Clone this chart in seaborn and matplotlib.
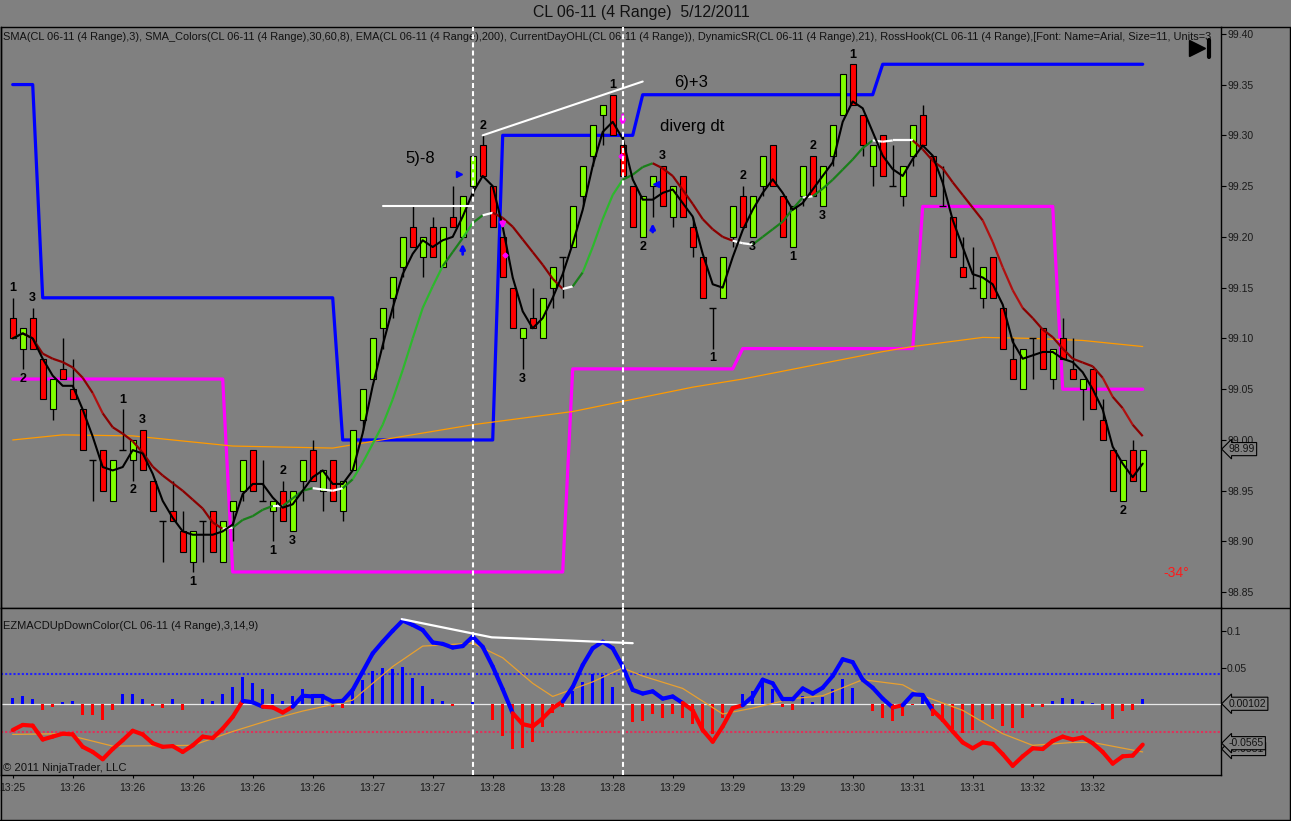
import numpy as np
import pandas as pd
import matplotlib
matplotlib.use("Agg")
import matplotlib.pyplot as plt
import matplotlib.transforms as mtransforms
from matplotlib.collections import LineCollection
from matplotlib.lines import Line2D
import seaborn as sns

# --- velas CL 06-11 (barras de rango 4) ---
bar_open = [99.12, 99.09, 99.12, 99.08, 99.03, 99.07, 99.05, 99.03, 98.98, 98.99,
            98.94, 98.99, 98.98, 99.01, 98.96, 98.92, 98.93, 98.91, 98.88, 98.92,
            98.93, 98.88, 98.93, 98.95, 98.99, 98.94, 98.93, 98.95, 98.91, 98.96,
            98.99, 98.95, 98.98, 98.93, 98.97, 99.02, 99.06, 99.11, 99.14, 99.17,
            99.21, 99.18, 99.21, 99.17, 99.22, 99.20, 99.25, 99.29, 99.25, 99.20,
            99.15, 99.10, 99.12, 99.10, 99.15, 99.18, 99.19, 99.24, 99.28, 99.32,
            99.34, 99.29, 99.25, 99.20, 99.25, 99.27, 99.22, 99.26, 99.21, 99.18,
            99.13, 99.14, 99.20, 99.24, 99.20, 99.25, 99.29, 99.24, 99.19, 99.24,
            99.28, 99.23, 99.28, 99.32, 99.37, 99.32, 99.27, 99.30, 99.25, 99.24,
            99.28, 99.32, 99.28, 99.23, 99.22, 99.17, 99.15, 99.14, 99.18, 99.13,
            99.08, 99.05, 99.10, 99.11, 99.06, 99.10, 99.07, 99.05, 99.07, 99.02,
            98.99, 98.94, 98.99, 98.95]
bar_high = [99.14, 99.11, 99.13, 99.08, 99.06, 99.10, 99.08, 99.03, 98.98, 98.99,
            98.98, 99.03, 99.00, 99.01, 98.96, 98.92, 98.96, 98.93, 98.91, 98.92,
            98.93, 98.92, 98.94, 98.98, 98.99, 98.98, 98.94, 98.96, 98.95, 98.98,
            99.00, 98.97, 98.98, 98.96, 99.01, 99.05, 99.10, 99.13, 99.16, 99.20,
            99.23, 99.20, 99.22, 99.21, 99.25, 99.24, 99.28, 99.30, 99.25, 99.20,
            99.15, 99.11, 99.15, 99.14, 99.17, 99.18, 99.23, 99.27, 99.31, 99.33,
            99.34, 99.30, 99.25, 99.24, 99.26, 99.27, 99.25, 99.26, 99.22, 99.18,
            99.13, 99.18, 99.23, 99.25, 99.24, 99.28, 99.29, 99.24, 99.23, 99.27,
            99.28, 99.27, 99.31, 99.36, 99.37, 99.32, 99.29, 99.30, 99.29, 99.27,
            99.31, 99.33, 99.28, 99.27, 99.22, 99.20, 99.19, 99.17, 99.18, 99.13,
            99.10, 99.09, 99.10, 99.11, 99.09, 99.12, 99.10, 99.06, 99.07, 99.04,
            98.99, 98.98, 99.00, 98.99]
bar_low = [99.10, 99.07, 99.09, 99.04, 99.02, 99.06, 99.04, 98.99, 98.94, 98.95,
           98.94, 98.99, 98.96, 98.97, 98.93, 98.88, 98.92, 98.89, 98.87, 98.88,
           98.89, 98.88, 98.90, 98.94, 98.95, 98.94, 98.90, 98.92, 98.91, 98.94,
           98.96, 98.93, 98.94, 98.92, 98.97, 99.01, 99.06, 99.09, 99.12, 99.16,
           99.19, 99.16, 99.18, 99.17, 99.21, 99.20, 99.24, 99.26, 99.21, 99.16,
           99.11, 99.07, 99.11, 99.10, 99.13, 99.14, 99.19, 99.23, 99.27, 99.29,
           99.30, 99.26, 99.21, 99.20, 99.22, 99.23, 99.21, 99.22, 99.18, 99.14,
           99.09, 99.14, 99.19, 99.21, 99.20, 99.24, 99.25, 99.20, 99.19, 99.23,
           99.24, 99.23, 99.27, 99.32, 99.33, 99.28, 99.25, 99.26, 99.25, 99.23,
           99.27, 99.29, 99.24, 99.23, 99.18, 99.16, 99.15, 99.13, 99.14, 99.09,
           99.06, 99.05, 99.06, 99.07, 99.05, 99.08, 99.06, 99.02, 99.03, 99.00,
           98.95, 98.94, 98.96, 98.95]
bar_close = [99.10, 99.11, 99.09, 99.04, 99.06, 99.06, 99.04, 98.99, 98.98, 98.95,
             98.98, 98.99, 99.00, 98.97, 98.93, 98.92, 98.92, 98.89, 98.91, 98.92,
             98.89, 98.92, 98.94, 98.98, 98.95, 98.94, 98.94, 98.92, 98.95, 98.98,
             98.96, 98.97, 98.94, 98.96, 99.01, 99.05, 99.10, 99.13, 99.16, 99.20,
             99.19, 99.20, 99.18, 99.21, 99.21, 99.24, 99.28, 99.26, 99.21, 99.16,
             99.11, 99.11, 99.11, 99.14, 99.17, 99.18, 99.23, 99.27, 99.31, 99.33,
             99.30, 99.26, 99.21, 99.24, 99.26, 99.23, 99.25, 99.22, 99.19, 99.14,
             99.13, 99.18, 99.23, 99.21, 99.24, 99.28, 99.25, 99.20, 99.23, 99.27,
             99.24, 99.27, 99.31, 99.36, 99.33, 99.29, 99.29, 99.26, 99.25, 99.27,
             99.31, 99.29, 99.24, 99.23, 99.18, 99.16, 99.15, 99.17, 99.14, 99.09,
             99.06, 99.09, 99.10, 99.07, 99.09, 99.08, 99.06, 99.06, 99.03, 99.00,
             98.95, 98.98, 98.96, 98.99]

# EMA(200) naranja, puntos
ema_bars = [0, 5, 12, 22, 32, 46, 56, 68, 73, 87, 90, 97, 102, 107, 113]
ema_vals = [99.000, 99.005, 99.004, 98.994, 98.992, 99.015, 99.028, 99.052,
            99.060, 99.087, 99.092, 99.101, 99.100, 99.098, 99.092]

# DynamicSR: niveles y numero de barras de cada tramo
res_levels = [99.35, 99.14, 99.00, 99.30, 99.34, 99.37]
res_counts = [3, 30, 16, 14, 24, 27]
sup_levels = [99.06, 98.87, 99.07, 99.09, 99.23, 99.05]
sup_counts = [22, 34, 17, 18, 14, 9]

# RossHook: barra, texto, arriba (a) / abajo (b)
hook_bars = [0, 2, 1, 11, 13, 12, 18, 27, 26, 28, 47, 51, 60, 65, 63, 73, 74, 78, 80, 81, 70, 84, 111]
hook_text = ["1", "3", "2", "1", "3", "2", "1", "2", "1", "3", "2", "3", "1", "3", "2", "2", "3", "1", "2", "3", "1", "1", "2"]
hook_side = ["a", "a", "b", "a", "a", "b", "b", "a", "b", "b", "a", "b", "a", "a", "b", "a", "b", "b", "a", "b", "b", "a", "b"]

# EZMACD: linea, histograma y senal
macd_line = [-0.035, -0.028, -0.029, -0.048, -0.044, -0.040, -0.041, -0.058, -0.065, -0.075,
             -0.061, -0.049, -0.036, -0.041, -0.053, -0.058, -0.057, -0.065, -0.056, -0.044,
             -0.046, -0.033, -0.017, 0.005, 0.003, -0.003, -0.004, -0.011, -0.003, 0.012,
             0.011, 0.011, 0.004, 0.005, 0.020, 0.045, 0.070, 0.086, 0.101, 0.115,
             0.109, 0.102, 0.085, 0.083, 0.078, 0.080, 0.093, 0.079, 0.052, 0.021,
             -0.012, -0.027, -0.030, -0.019, -0.005, 0.004, 0.024, 0.054, 0.077, 0.086,
             0.077, 0.052, 0.020, 0.015, 0.018, 0.008, 0.011, 0.002, -0.008, -0.035,
             -0.051, -0.030, -0.005, -0.001, 0.011, 0.034, 0.029, 0.007, 0.007, 0.022,
             0.015, 0.023, 0.039, 0.062, 0.058, 0.034, 0.023, 0.008, -0.004, -0.001,
             0.014, 0.013, -0.008, -0.021, -0.037, -0.052, -0.060, -0.052, -0.054, -0.068,
             -0.084, -0.071, -0.060, -0.061, -0.050, -0.044, -0.048, -0.045, -0.053, -0.065,
             -0.081, -0.071, -0.070, -0.055]
macd_hist = [0.009, 0.011, 0.008, -0.008, -0.004, 0.004, 0.005, -0.014, -0.015, -0.021,
             -0.008, 0.015, 0.015, 0.008, -0.002, -0.005, 0.008, -0.008, 0.0, 0.008,
             0.005, 0.015, 0.024, 0.038, 0.030, 0.021, 0.015, 0.005, 0.011, 0.021,
             0.015, 0.011, -0.004, -0.005, 0.019, 0.033, 0.046, 0.050, 0.049, 0.051,
             0.036, 0.025, 0.008, 0.005, -0.002, 0.0, 0.004, 0.0, -0.021, -0.043,
             -0.061, -0.060, -0.052, -0.031, -0.011, -0.004, 0.018, 0.031, 0.042, 0.041,
             0.024, 0.0, -0.024, -0.022, -0.013, -0.019, -0.013, -0.019, -0.027, -0.033,
             -0.040, -0.019, 0.0, 0.015, 0.018, 0.031, 0.021, -0.004, -0.007, 0.011,
             0.004, 0.010, 0.021, 0.035, 0.023, 0.001, -0.009, -0.018, -0.022, -0.016,
             -0.001, 0.010, -0.016, -0.024, -0.033, -0.039, -0.035, -0.021, -0.020, -0.029,
             -0.032, -0.018, -0.004, -0.004, 0.005, 0.009, 0.008, 0.005, 0.002, -0.008,
             -0.020, -0.009, -0.007, 0.008]
signal_bars = [0, 5, 10, 18, 22, 26, 29, 34, 38, 41, 46, 49, 52, 54, 58, 61, 63, 67, 71,
               74, 78, 81, 85, 89, 91, 95, 99, 102, 106, 108, 113]
signal_vals = [-0.041, -0.040, -0.057, -0.056, -0.037, -0.020, -0.009, 0.006, 0.052, 0.080,
               0.084, 0.064, 0.029, 0.011, 0.031, 0.050, 0.039, 0.022, -0.013, -0.005,
               0.008, 0.012, 0.034, 0.027, 0.012, -0.008, -0.040, -0.056, -0.052, -0.052,
               -0.065]

time_labels = ["13:25", "13:26", "13:26", "13:26", "13:26", "13:26", "13:27", "13:27",
               "13:28", "13:28", "13:28", "13:29", "13:29", "13:29", "13:30", "13:31",
               "13:31", "13:32", "13:32"]
time_label_bars = list(range(0, 109, 6))

price_ticks = [98.85, 98.90, 98.95, 99.00, 99.05, 99.10, 99.15, 99.20, 99.25, 99.30, 99.35, 99.40]

header = ("SMA(CL 06-11 (4 Range),3), SMA_Colors(CL 06-11 (4 Range),30,60,8), "
          "EMA(CL 06-11 (4 Range),200), CurrentDayOHL(CL 06-11 (4 Range)), "
          "DynamicSR(CL 06-11 (4 Range),21), RossHook(CL 06-11 (4 Range),"
          "[Font: Name=Arial, Size=11, Units=3")

# --- estilo ---
GRIS = "#808080"
sns.set_style("dark", {"axes.facecolor": GRIS, "figure.facecolor": GRIS,
                       "axes.edgecolor": "black", "text.color": "black"})
plt.rcParams["font.family"] = ["Liberation Sans", "DejaVu Sans"]
plt.rcParams["text.color"] = "black"

W, H = 1291, 821
fig = plt.figure(figsize=(W / 100, H / 100), dpi=100)
fig.patch.set_facecolor(GRIS)
ax = fig.add_axes([1 / W, 1 - 607.7 / H, 1219.7 / W, 580.4 / H])
ax2 = fig.add_axes([1 / W, 1 - 775 / H, 1219.7 / W, 167.3 / H])
renderer = fig.canvas.get_renderer()

idx = np.arange(len(bar_close))
o = np.array(bar_open)
h = np.array(bar_high)
l = np.array(bar_low)
c = np.array(bar_close)

for a in (ax, ax2):
    a.set_facecolor(GRIS)
    a.set_xlim(-1.17, 120.8)
    for s in a.spines.values():
        s.set_color("black")
        s.set_linewidth(1)
    a.grid(False)

ax.set_ylim(98.8348, 99.4064)
ax2.set_ylim(-0.0966, 0.1326)

# --- panel de precio ---
res = np.repeat(res_levels, res_counts)
sup = np.repeat(sup_levels, sup_counts)
sns.lineplot(x=idx, y=res, ax=ax, color="#0000ff", lw=2.3, zorder=2)
sns.lineplot(x=idx, y=sup, ax=ax, color="#ff00ff", lw=2.3, zorder=2)
sns.lineplot(x=ema_bars, y=ema_vals, ax=ax, color="#ff9a00", lw=0.9, zorder=2)

up = c > o + 1e-9
dn = c < o - 1e-9
dj = ~(up | dn)
ax.vlines(idx, l, h, color="black", lw=1, zorder=3)
ax.bar(idx[up], (c - o)[up], bottom=o[up], width=0.62, color="#80ff00",
       edgecolor="black", linewidth=0.8, zorder=4)
ax.bar(idx[dn], (o - c)[dn], bottom=c[dn], width=0.62, color="#ff0000",
       edgecolor="black", linewidth=0.8, zorder=4)
ax.hlines(o[dj], idx[dj] - 0.35, idx[dj] + 0.35, color="black", lw=1, zorder=4)

close_s = pd.Series(bar_close)
sma3 = close_s.rolling(3, min_periods=1).mean()
sma8 = close_s.rolling(8, min_periods=1).mean().values

# SMA_Colors: color segun pendiente
segs, cols = [], []
for i in range(len(sma8) - 1):
    d = sma8[i + 1] - sma8[i]
    if abs(d) < 0.0025:
        col = "white"
    elif d > 0:
        col = "#2db82d" if d > 0.014 else "#1a7f1a"
    else:
        col = "#b01010" if d < -0.016 else "#8b0000"
    segs.append([(i, sma8[i]), (i + 1, sma8[i + 1])])
    cols.append(col)
ax.add_collection(LineCollection(segs, colors=cols, linewidths=1.6, zorder=5))
sns.lineplot(x=idx, y=sma3, ax=ax, color="black", lw=1.5, zorder=6)

# lineas dibujadas a mano
ax.plot([37, 46], [99.23, 99.23], color="white", lw=1.5, zorder=6)
ax.plot([47, 63], [99.30, 99.353], color="white", lw=1.5, zorder=6)

for b, t, s in zip(hook_bars, hook_text, hook_side):
    if s == "a":
        ax.annotate(t, xy=(b, bar_high[b]), xytext=(0, 7), textcoords="offset points",
                    ha="center", va="center", fontsize=9, fontweight="bold",
                    color="black", zorder=7)
    else:
        ax.annotate(t, xy=(b, bar_low[b]), xytext=(0, -7), textcoords="offset points",
                    ha="center", va="center", fontsize=9, fontweight="bold",
                    color="black", zorder=7)

ax.text(40.8, 99.277, "5)-8", fontsize=12, ha="center", va="center", color="black")
ax.text(67.8, 99.352, "6)+3", fontsize=12, ha="center", va="center", color="black")
ax.text(67.9, 99.309, "diverg dt", fontsize=12, ha="center", va="center", color="black")

# flechas de senal
for x0, y0, y1, col in [(45, 99.180, 99.196, "#0000ff"), (64, 99.202, 99.216, "#0000ff"),
                        (49, 99.218, 99.205, "#ff00ff"), (61, 99.323, 99.306, "#ff00ff")]:
    ax.annotate("", xy=(x0, y1), xytext=(x0, y0),
                arrowprops=dict(arrowstyle="-|>", color=col, lw=2, mutation_scale=7), zorder=7)
ax.plot([44.6], [99.262], marker=">", color="#0000ff", ms=4, zorder=7)
ax.plot([64.3], [99.252], marker="<", color="#0000ff", ms=4, zorder=7)
ax.plot([49.2, 60.8], [99.182, 99.280], ls="none", marker="D", color="#ff00ff", ms=2.5, zorder=7)

ax.set_xticks([])
ax.yaxis.tick_right()
ax.set_yticks(price_ticks)
ax.set_yticklabels([f"{p:.2f}" for p in price_ticks])
ax.tick_params(axis="y", direction="out", length=3.6, width=0.8, pad=1,
               labelsize=7.5, colors="black", labelcolor="#1a1a1a", right=True, left=False)

bt = mtransforms.blended_transform_factory(ax.transAxes, ax.transData)
ax.text(1.0 + 8 / 1219.7, 98.991, "98.99", transform=bt, fontsize=7.5, va="center",
        ha="left", clip_on=False, zorder=9, color="#111111",
        bbox=dict(boxstyle="larrow,pad=0.15", fc=GRIS, ec="black", lw=0.8))

# cabecera del panel
ht = ax.text(2 / 1219.7, 1 - 10 / 580.4, header, transform=ax.transAxes, fontsize=8,
             ha="left", va="center", color="#111111", clip_on=True)
ht.set_fontsize(8 * 1216 / ht.get_window_extent(renderer).width)

ax.text(1162 / 1219.7, 98.869, "-34°", transform=bt, color="#ff1a1a", fontsize=10,
        ha="left", va="center")

# --- panel MACD ---
ax2.axhline(0.042, color="#2020ff", lw=1.5, ls=(0, (1, 1)), zorder=1)
ax2.axhline(-0.038, color="#e0305a", lw=1.5, ls=(0, (1, 1)), zorder=1)
ax2.axhline(0.001, color="#e8e8e8", lw=0.9, zorder=1)

hist = np.array(macd_hist)
ax2.bar(idx, hist, width=0.33, color=np.where(hist >= 0, "#0000ff", "#ff0000"),
        edgecolor="none", linewidth=0, zorder=2)
sns.lineplot(x=signal_bars, y=signal_vals, ax=ax2, color="#e8a030", lw=0.9, zorder=3)

mv = np.array(macd_line)
msegs = [[(i, mv[i]), (i + 1, mv[i + 1])] for i in range(len(mv) - 1)]
mcols = ["#0000ff" if (mv[i] + mv[i + 1]) / 2 >= 0 else "#ff0000" for i in range(len(mv) - 1)]
ax2.add_collection(LineCollection(msegs, colors=mcols, linewidths=3, zorder=4,
                                  capstyle="round", joinstyle="round"))

ax2.plot([38.9, 47.9, 62.0], [0.117, 0.092, 0.084], color="white", lw=1.6, zorder=5)

ax2.yaxis.tick_right()
ax2.set_yticks([0.05, 0.1])
ax2.set_yticklabels(["0.05", "0.1"])
ax2.tick_params(axis="y", direction="out", length=3.6, width=0.8, pad=1,
                labelsize=7.5, colors="black", labelcolor="#1a1a1a", right=True, left=False)
ax2.set_xticks(time_label_bars)
ax2.set_xticklabels(time_labels)
ax2.tick_params(axis="x", direction="out", length=2.5, width=0.8, pad=3,
                labelsize=7.5, colors="black", labelcolor="#1a1a1a", bottom=True)

bt2 = mtransforms.blended_transform_factory(ax2.transAxes, ax2.transData)
for val, txt in [(0.001, "0.00102"), (-0.061, "-0.0581"), (-0.053, "-0.0565")]:
    ax2.text(1.0 + 8 / 1219.7, val, txt, transform=bt2, fontsize=7.5, va="center",
             ha="left", clip_on=False, zorder=9, color="#111111",
             bbox=dict(boxstyle="larrow,pad=0.15", fc=GRIS, ec="black", lw=0.8))

lt = ax2.text(2 / 1219.7, 1 - 18.5 / 167.3, "EZMACDUpDownColor(CL 06-11 (4 Range),3,14,9)",
              transform=ax2.transAxes, fontsize=7.5, ha="left", va="center", color="#111111")
lt.set_fontsize(7.5 * 254 / lt.get_window_extent(renderer).width)
ct = ax2.text(2 / 1219.7, 1 - 160.5 / 167.3, "© 2011 NinjaTrader, LLC",
              transform=ax2.transAxes, fontsize=7.5, ha="left", va="center", color="#111111")
ct.set_fontsize(7.5 * 124 / ct.get_window_extent(renderer).width)

# lineas verticales discontinuas
for b in (46, 61):
    for a in (ax, ax2):
        a.axvline(b, color="white", lw=1.5, ls=(0, (2.4, 1.5)), zorder=8)

# titulo
tt = fig.text(533 / W, 1 - 13 / H, "CL 06-11 (4 Range)  5/12/2011", fontsize=10,
              ha="left", va="center", color="#111111")
tt.set_fontsize(10 * 218 / tt.get_window_extent(renderer).width)

# marco exterior y boton
for xs, ys in [([1220.7, 1290], [27.3, 27.3]), ([1220.7, 1290], [607.7, 607.7]),
               ([1290, 1290], [27.3, 820]), ([0.5, 0.5], [27.3, 820]), ([0, 1291], [820, 820])]:
    fig.add_artist(Line2D([x / W for x in xs], [1 - y / H for y in ys], color="black",
                          lw=1, transform=fig.transFigure))
fig.add_artist(Line2D([1197 / W], [1 - 48 / H], marker=">", ms=12, color="black",
                      transform=fig.transFigure))
fig.add_artist(Line2D([1209 / W, 1209 / W], [1 - 40 / H, 1 - 57 / H], lw=3, color="black",
                      transform=fig.transFigure))

fig.savefig("out.png", dpi=100, facecolor=GRIS)
